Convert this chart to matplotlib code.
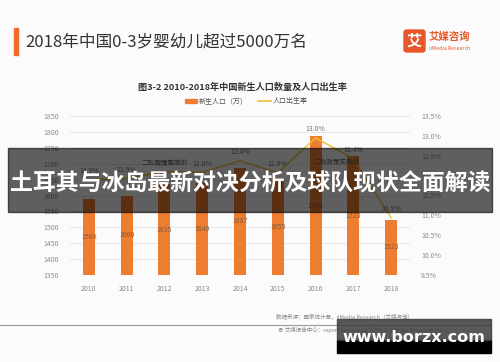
import matplotlib
matplotlib.use("Agg")
import matplotlib.pyplot as plt
from matplotlib.patches import Rectangle, FancyBboxPatch
from matplotlib.lines import Line2D
import numpy as np

plt.rcParams['font.family'] = ['Noto Sans CJK SC', 'DejaVu Sans']

years = ['2010', '2011', '2012', '2013', '2014', '2015', '2016', '2017', '2018']
births = [1588, 1600, 1635, 1640, 1687, 1655, 1786, 1723, 1523]
birth_rate = [11.90, 11.93, 12.10, 12.08, 12.37, 12.07, 12.95, 12.43, 10.94]
rate_labels = ['11.9%', '11.9%', '12.1%', '12.0%', '12.4%', '12.0%', '13.0%', '12.4%', '10.9%']
left_ticks = [1350, 1400, 1450, 1500, 1550, 1600, 1650, 1700, 1750, 1800, 1850]
right_ticks = [9.5, 10.0, 10.5, 11.0, 11.5, 12.0, 12.5, 13.0, 13.5]

W, H = 500, 362
fig = plt.figure(figsize=(W / 100, H / 100), dpi=100)
fig.patch.set_facecolor('#fbfbfb')

def fx(x):
    return x / W

def fy(y):
    return 1 - y / H

ORANGE = '#ED7D31'
GOLD = '#F2C12E'
GRAY = '#8c8c8c'

# header
fig.patches.append(Rectangle((fx(14), fy(55)), 4 / W, 27 / H, transform=fig.transFigure,
                             color='#F06A2A', zorder=2))
fig.text(fx(25), fy(42), '2018年中国0-3岁婴幼儿超过5000万名', fontsize=12, color='#333333',
         va='center', ha='left')
# logo
fig.patches.append(FancyBboxPatch((fx(404), fy(52)), 21 / W, 22 / H, transform=fig.transFigure,
                                  boxstyle='round,pad=0,rounding_size=0.006', color='#E8572A', zorder=2))
fig.text(fx(414.5), fy(41), '艾', fontsize=11, color='white', fontweight='bold',
         ha='center', va='center', zorder=3)
fig.text(fx(429), fy(37), '艾媒咨询', fontsize=7.5, color='#E8572A', fontweight='bold',
         ha='left', va='center')
fig.text(fx(429), fy(48), 'iiMedia Research', fontsize=3.8, color='#E8572A',
         ha='left', va='center')

# chart title
fig.text(fx(242), fy(87), '图3-2 2010-2018年中国新生人口数量及人口出生率', fontsize=6.6,
         fontweight='bold', color='#333333', ha='center', va='center')

# axes
ax = fig.add_axes([fx(70), fy(275), (410 - 70) / W, (275 - 116) / H])
ax.set_facecolor('none')
x = np.arange(len(years))
bars = ax.bar(x, [b - 1350 for b in births], bottom=1350, width=0.32, color=ORANGE, zorder=2)
ax.set_ylim(1350, 1850)
ax.set_xlim(-0.5, len(years) - 0.5)
ax.set_yticks(left_ticks)
ax.set_yticklabels([str(t) for t in left_ticks], fontsize=5, color=GRAY)
ax.set_xticks(x)
ax.set_xticklabels(years, fontsize=5, color=GRAY)
ax.tick_params(axis='both', length=0)
ax.tick_params(axis='x', pad=7)
ax.tick_params(axis='y', pad=8)
ax.grid(axis='y', color='#e3e3e3', linewidth=0.6, zorder=0)
for s in ax.spines.values():
    s.set_visible(False)
ax.axhline(1350, color='#d9d9d9', linewidth=0.6, zorder=1)
for xi, b in zip(x, births):
    ax.text(xi, (1350 + b) / 2, str(b), fontsize=5, color='#8a5a3a', ha='center', va='center', zorder=3)

ax2 = ax.twinx()
ax2.set_ylim(9.5, 13.5)
ax2.plot(x, birth_rate, color=GOLD, linewidth=1.0, zorder=4)
ax2.set_yticks(right_ticks)
ax2.set_yticklabels(['%.1f%%' % t for t in right_ticks], fontsize=5, color=GRAY)
ax2.tick_params(axis='y', length=0, pad=8)
for s in ax2.spines.values():
    s.set_visible(False)
for xi, r, lab in zip(x, birth_rate, rate_labels):
    ax2.text(xi, r + 0.12, lab, fontsize=5, color='#777777', ha='center', va='bottom', zorder=5)
ax2.text(2.0, 12.22, '二胎政策实施前', fontsize=4.8, color='#666666', ha='center', va='bottom', zorder=5)
ax2.text(6.55, 12.25, '二胎政策实施后', fontsize=4.8, color='#666666', ha='center', va='bottom', zorder=5)

# legend
fig.patches.append(Rectangle((fx(185), fy(103)), 12 / W, 4 / H, transform=fig.transFigure,
                             color=ORANGE))
fig.text(fx(199), fy(101), '新生人口（万）', fontsize=5, color='#555555', ha='left', va='center')
fig.lines.append(Line2D([fx(258), fx(271)], [fy(101), fy(101)], transform=fig.transFigure,
                        color=GOLD, linewidth=1.2))
fig.text(fx(273), fy(101), '人口出生率', fontsize=5, color='#555555', ha='left', va='center')

# footer
fig.text(fx(276), fy(317), '数据来源：国家统计局，iiMedia Research（艾媒咨询）', fontsize=4,
         color='#888888', ha='left', va='center')
fig.lines.append(Line2D([0, fx(490)], [fy(325), fy(325)], transform=fig.transFigure,
                        color='#9a9a9a', linewidth=0.8))
fig.text(fx(278), fy(330), '⊕ 艾媒报告中心：report.iimedia.cn  ©2019  iiMedia Research Inc',
         fontsize=4, color='#888888', ha='left', va='center')

# banner overlay
fig.patches.append(Rectangle((fx(8), fy(212)), (492 - 8) / W, (212 - 148) / H,
                             transform=fig.transFigure, color='black', alpha=0.62, zorder=10))
fig.text(fx(250), fy(184), '土耳其与冰岛最新对决分析及球队现状全面解读', fontsize=16.5,
         fontweight='bold', color='white', ha='center', va='center', zorder=11)

# watermark
fig.patches.append(Rectangle((fx(337), fy(353)), (491 - 337) / W, (353 - 340) / H,
                             transform=fig.transFigure, color='black', zorder=10))
fig.patches.append(Rectangle((fx(337), fy(340)), (491 - 337) / W, (340 - 319) / H,
                             transform=fig.transFigure, color='#3c3c3c', alpha=0.85, zorder=10))
fig.text(fx(414), fy(337), 'www.borzx.com', fontsize=11.5, fontweight='bold', color='white',
         ha='center', va='center', zorder=11, family='DejaVu Sans')

fig.savefig('out.png', dpi=100, facecolor=fig.get_facecolor())
